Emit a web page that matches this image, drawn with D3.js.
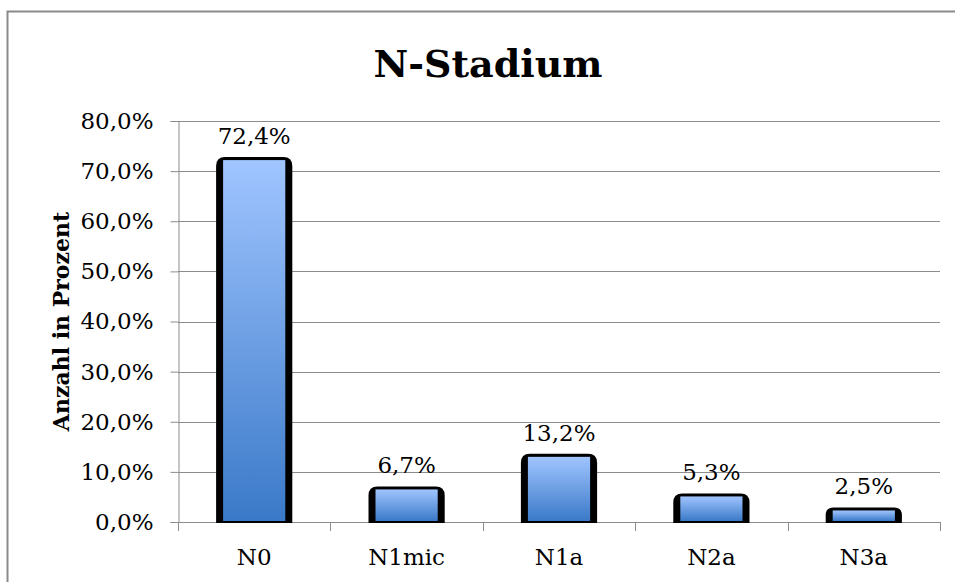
<!DOCTYPE html>
<html lang="de">
<head>
    <meta charset="utf-8">
    <script src="https://d3js.org/d3.v7.min.js"></script>
</head>
<body style="margin:0;background:#fff;">
<style>
    text {
        font-family: "DejaVu Serif", serif;
        fill: #000;
    }
</style>
<svg id="chart"></svg>
<script>
    const width = 955;
    const height = 582;

    // data
    const categories = ['N0', 'N1mic', 'N1a', 'N2a', 'N3a'];
    const values = [72.4, 6.7, 13.2, 5.3, 2.5];
    const yTicks = [0, 10, 20, 30, 40, 50, 60, 70, 80];

    const fmt = (v) => v.toFixed(1).replace('.', ',') + '%';

    const svg = d3.select('#chart')
        .attr('width', width)
        .attr('height', height);

    // gradient for bars
    const grad = svg.append('defs').append('linearGradient')
        .attr('id', 'barFill')
        .attr('x1', 0).attr('y1', 0).attr('x2', 0).attr('y2', 1);
    grad.append('stop').attr('offset', '0%').attr('stop-color', '#a0c5ff');
    grad.append('stop').attr('offset', '100%').attr('stop-color', '#3a79c8');

    // outer frame
    svg.append('rect')
        .attr('x', 7.5).attr('y', 11.5)
        .attr('width', 962).attr('height', 600)
        .attr('fill', 'none')
        .attr('stroke', '#8a8a8a')
        .attr('stroke-width', 2);

    const plot = {left: 178, right: 940, top: 121, bottom: 522};

    const x = d3.scaleBand()
        .domain(categories)
        .range([plot.left, plot.right])
        .paddingInner(0.5)
        .paddingOuter(0.25);

    const y = d3.scaleLinear()
        .domain([0, 80])
        .range([plot.bottom, plot.top]);

    // gridlines
    svg.append('g')
        .selectAll('line')
        .data(yTicks.filter(t => t > 0))
        .enter().append('line')
        .attr('x1', plot.left).attr('x2', plot.right)
        .attr('y1', d => Math.round(y(d)) + 0.5)
        .attr('y2', d => Math.round(y(d)) + 0.5)
        .attr('stroke', '#8c8c8c')
        .attr('stroke-width', 1);

    // y axis
    const yAxis = svg.append('g')
        .attr('transform', `translate(${plot.left + 0.5},0)`)
        .call(d3.axisLeft(y).tickValues(yTicks).tickFormat(fmt).tickSize(8).tickPadding(17));
    yAxis.select('.domain').attr('stroke', '#8c8c8c');
    yAxis.selectAll('.tick line').attr('stroke', '#8c8c8c');
    yAxis.selectAll('.tick text')
        .style('font-size', '23px')
        .style('font-family', '"DejaVu Serif", serif');

    // x axis line + ticks at category boundaries
    const step = x.step();
    const bounds = d3.range(categories.length + 1).map(i => plot.left + i * step);
    svg.append('line')
        .attr('x1', plot.left).attr('x2', plot.right)
        .attr('y1', plot.bottom + 0.5).attr('y2', plot.bottom + 0.5)
        .attr('stroke', '#8c8c8c');
    svg.append('g').selectAll('line')
        .data(bounds)
        .enter().append('line')
        .attr('x1', d => Math.round(d) + 0.5).attr('x2', d => Math.round(d) + 0.5)
        .attr('y1', plot.bottom).attr('y2', plot.bottom + 9)
        .attr('stroke', '#8c8c8c');

    // x labels
    svg.append('g').selectAll('text')
        .data(categories)
        .enter().append('text')
        .attr('x', d => x(d) + x.bandwidth() / 2)
        .attr('y', 565)
        .attr('text-anchor', 'middle')
        .style('font-size', '23px')
        .text(d => d);

    // bars
    const data = categories.map((c, i) => ({cat: c, value: values[i]}));
    const r = 9;
    const bars = svg.append('g').selectAll('g')
        .data(data)
        .enter().append('g');

    bars.append('path')
        .attr('fill', '#000')
        .attr('d', d => {
            const x0 = x(d.cat), x1 = x0 + x.bandwidth();
            const top = y(d.value) - 2, bot = plot.bottom + 1;
            const rr = Math.min(r, (bot - top) / 2);
            return `M${x0},${bot} L${x0},${top + rr} Q${x0},${top} ${x0 + rr},${top}` +
                ` L${x1 - rr},${top} Q${x1},${top} ${x1},${top + rr} L${x1},${bot} Z`;
        });

    bars.append('rect')
        .attr('x', d => x(d.cat) + 7)
        .attr('width', x.bandwidth() - 14)
        .attr('y', d => y(d.value) + 1)
        .attr('height', d => plot.bottom - 1 - y(d.value) - 1)
        .attr('fill', 'url(#barFill)');

    // value labels
    bars.append('text')
        .attr('x', d => x(d.cat) + x.bandwidth() / 2)
        .attr('y', d => y(d.value) - 15)
        .attr('text-anchor', 'middle')
        .style('font-size', '23px')
        .text(d => fmt(d.value));

    // title
    svg.append('text')
        .attr('x', 488)
        .attr('y', 77)
        .attr('text-anchor', 'middle')
        .style('font-size', '38px')
        .style('font-weight', 'bold')
        .text('N-Stadium');

    // y axis title
    svg.append('text')
        .attr('transform', `translate(69,${(plot.top + plot.bottom) / 2}) rotate(-90)`)
        .attr('text-anchor', 'middle')
        .style('font-size', '22px')
        .style('font-weight', 'bold')
        .text('Anzahl in Prozent');
</script>
</body>
</html>
